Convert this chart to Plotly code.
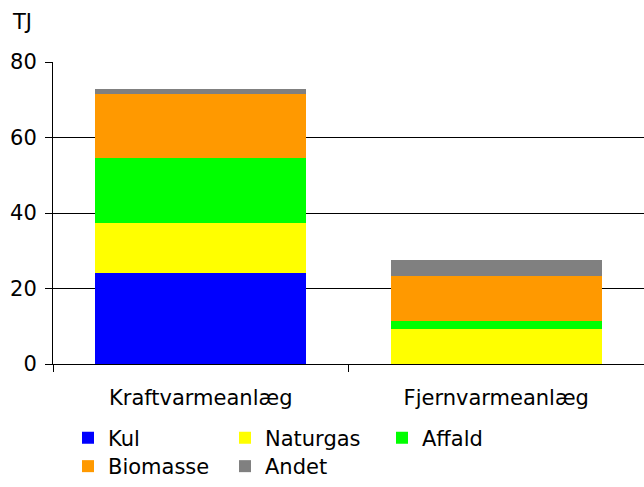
import plotly.graph_objects as go

categories = ['Kraftvarmeanlæg', 'Fjernvarmeanlæg']
kul = [24.2, 0]
naturgas = [13.2, 9.2]
affald = [17.2, 2.1]
biomasse = [17.0, 12.1]
andet = [1.2, 4.2]

font = dict(family='DejaVu Sans', size=21, color='black')

fig = go.Figure()
fig.add_trace(go.Bar(x=categories, y=kul, name='Kul', marker=dict(color='#0000FF', line=dict(width=0))))
fig.add_trace(go.Bar(x=categories, y=naturgas, name='Naturgas', marker=dict(color='#FFFF00', line=dict(width=0))))
fig.add_trace(go.Bar(x=categories, y=affald, name='Affald', marker=dict(color='#00FF00', line=dict(width=0))))
fig.add_trace(go.Bar(x=categories, y=biomasse, name='Biomasse', legend='legend2',
                     marker=dict(color='#FF9900', line=dict(width=0))))
fig.add_trace(go.Bar(x=categories, y=andet, name='Andet', legend='legend2',
                     marker=dict(color='#808080', line=dict(width=0))))

legend_style = dict(orientation='h', xref='container', yref='container',
                    xanchor='left', x=68 / 644,
                    entrywidth=112, entrywidthmode='pixels', font=font,
                    bgcolor='rgba(0,0,0,0)', traceorder='normal')

fig.update_layout(
    width=644, height=487,
    margin=dict(l=53, r=0, t=62, b=123),
    barmode='stack', bargap=0.285,
    plot_bgcolor='white', paper_bgcolor='white',
    font=font,
    legend=dict(y=1 - 438 / 487, yanchor='middle', **legend_style),
    legend2=dict(y=0, yanchor='bottom', **legend_style),
    xaxis=dict(showline=True, linecolor='black', linewidth=1, ticks='outside',
               tickson='boundaries', ticklen=7, tickcolor='black', showgrid=False,
               tickfont=font, ticklabelstandoff=15, automargin=False),
    yaxis=dict(range=[0, 80], tickvals=[0, 20, 40, 60, 80], showline=True, linecolor='black',
               linewidth=1, ticks='outside', ticklen=7, tickcolor='black',
               showgrid=True, gridcolor='black', gridwidth=1, zeroline=False,
               tickfont=font, ticklabelstandoff=4, automargin=False),
    annotations=[dict(text='TJ', xref='paper', yref='paper', x=-0.052, y=1.132,
                      xanchor='center', yanchor='middle', showarrow=False, font=font)],
)

# the page's default body margin would shift the chart by 8px
fig.write_html('out.html', config={'displayModeBar': False},
               post_script="document.body.style.margin = '0';")
